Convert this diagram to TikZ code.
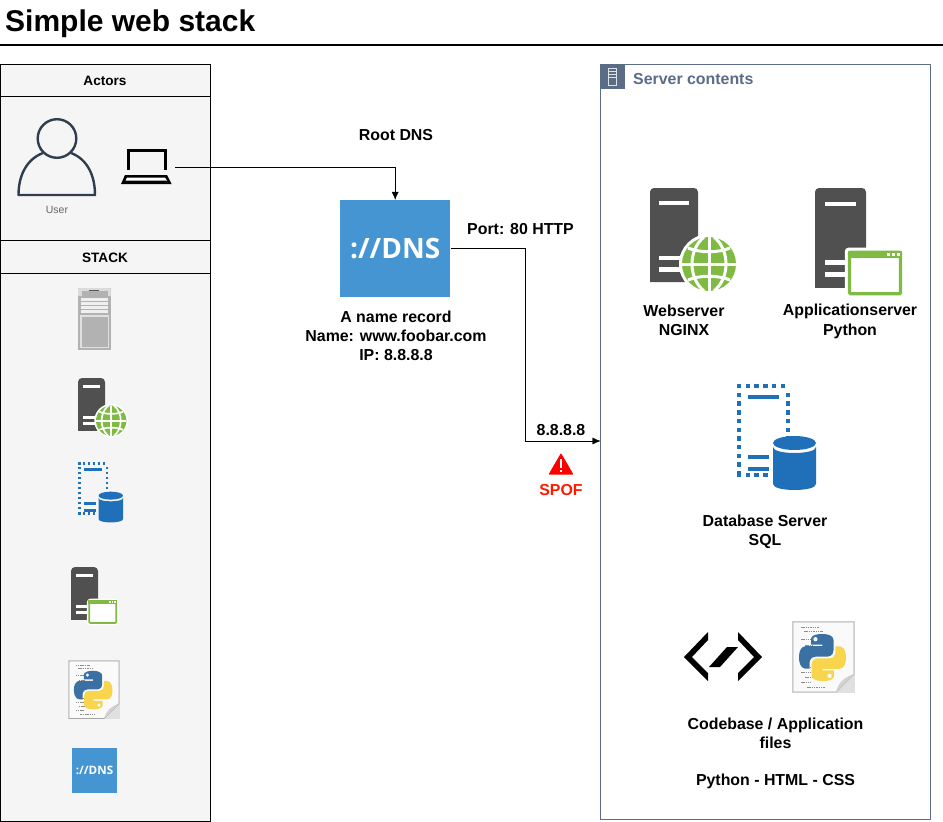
\documentclass[tikz,border=0pt]{standalone}
\usepackage{fontspec}
\usetikzlibrary{arrows.meta}
\setmainfont{Liberation Sans}
\newfontfamily\dnsfont{Open Sans}
\definecolor{panelgray}{HTML}{F5F5F5}
\definecolor{slateblue}{HTML}{5A6C86}
\definecolor{servergray}{HTML}{505050}
\definecolor{webgreen}{HTML}{7FBA42}
\definecolor{dbblue}{HTML}{1F6FB9}
\definecolor{dnsblue}{HTML}{4495D1}
\definecolor{userdark}{HTML}{2F3E4E}
\definecolor{pyblue}{HTML}{3A71A2}
\definecolor{pyyellow}{HTML}{F9D44D}
\newcommand{\bodyfont}{\fontsize{15.9}{19}\selectfont\bfseries}
\newcommand{\headfont}{\fontsize{13.6}{16}\selectfont\bfseries}
\newcommand{\snake}{(49,0) .. controls (24,0) and (25.6,11) .. (25.6,11) -- (25.6,22.4) -- (49.6,22.4) -- (49.6,25.8) -- (16,25.8) .. controls (16,25.8) and (0,24) .. (0,49.3) .. controls (0,74.6) and (14,73.7) .. (14,73.7) -- (22.4,73.7) -- (22.4,62) .. controls (22.4,62) and (22,48) .. (36.2,48) -- (60,48) .. controls (60,48) and (73.4,48.2) .. (73.4,35) -- (73.4,13.2) .. controls (73.4,13.2) and (75.4,0) .. (49,0) -- cycle}
\newcommand{\towerbody}{
  \fill[servergray,rounded corners=4] (0,94) -- (0,0) -- (48,0) -- (48,94) [sharp corners] -- cycle;
  \fill[white] (9,13) rectangle (39,17);
  \fill[white] (9,68) rectangle (37,72);
  \fill[white] (9,79) rectangle (37,84);
}
\tikzset{
  label/.style={align=center,inner sep=0pt,font=\bodyfont},
  head/.style={inner sep=0pt,font=\headfont},
  arrowline/.style={-{Latex[length=8pt,width=7pt]}},
  iconwidth/.initial=1,
  webserver/.pic={
    \towerbody
    \fill[white] (59,76) circle (30);
    \fill[webgreen] (59,76) circle (27);
    \begin{scope}[white,line width=3pt*\pgfkeysvalueof{/tikz/iconwidth}]
      \draw (59,49) -- (59,103);
      \draw (32,76) -- (86,76);
      \draw (38,60) .. controls (50,65) and (68,65) .. (80,60);
      \draw (38,92) .. controls (50,87) and (68,87) .. (80,92);
      \draw (54,49) .. controls (38,62) and (38,90) .. (54,103);
      \draw (64,49) .. controls (80,62) and (80,90) .. (64,103);
    \end{scope}
  },
  appserver/.pic={
    \towerbody
    \fill[white,rounded corners=4] (28,56) rectangle (85,104);
    \draw[webgreen,line width=3pt*\pgfkeysvalueof{/tikz/iconwidth},rounded corners=1] (32.5,60.5) rectangle (80.5,99.5);
    \fill[webgreen] (31,59) rectangle (82,66);
    \foreach \k in {68,72.5,77} \fill[white] (\k,61) rectangle +(2.6,2.6);
  },
  dbserver/.pic={
    \foreach \k in {0,...,5} \fill[dbblue] (\k*8.7,0) rectangle +(4.4,4.4);
    \foreach \k in {0,...,3} \fill[dbblue] (\k*8.7,88.5) rectangle +(4.4,4.4);
    \foreach \k in {1,...,10} \fill[dbblue] (0,\k*8.7) rectangle +(4.4,4.4);
    \foreach \k in {1,...,6} \fill[dbblue] (49,\k*8.7) rectangle +(4.4,4.4);
    \fill[dbblue] (11,11) rectangle (42,15.4);
    \fill[dbblue] (11,71) rectangle (32,75.4);
    \fill[dbblue] (11,83) rectangle (32,87.4);
    \fill[dbblue] (36,63) -- (36,100) .. controls (36,108) and (79,108) .. (79,100) -- (79,63) .. controls (79,71) and (36,71) .. (36,63) -- cycle;
    \fill[dbblue] (57.5,59) ellipse (21.5 and 7);
  },
  pyfile/.pic={
    \fill[black!12] (-1,-1) rectangle (62,71);
    \fill[black!2] (0,0) -- (61,0) -- (61,52) -- (43,70) -- (0,70) -- cycle;
    \draw[black!35,line width=.7pt] (0,0) -- (61,0) -- (61,52) -- (43,70) -- (0,70) -- cycle;
    \fill[black!18] (43,70) .. controls (46,60) and (50,56) .. (61,52) -- cycle;
    \foreach \k/\a/\b in {5/8/26,9/11/30,17/8/30,23/12/20,45/12/24,50/8/18,55/12/22,60/8/18,65/14/32}
      \draw[black!45,line width=.5pt,dash pattern=on 1.5pt off .8pt] (\a,\k) -- (\b,\k);
    \begin{scope}[shift={(6,12)},scale=.47]
      \fill[pyblue] \snake;
      \fill[white] (35,11) circle (4.5);
      \begin{scope}[shift={(100,100)},xscale=-1,yscale=-1]
        \fill[pyyellow] \snake;
        \fill[white] (35,11) circle (4.5);
      \end{scope}
    \end{scope}
  },
}
\begin{document}
\begin{tikzpicture}[x=1pt,y=-1pt]
  \useasboundingbox (0,0) rectangle (943,822);

  \node[anchor=base west,inner sep=0pt,font=\fontsize{30}{36}\selectfont\bfseries] (title) at (5,31) {Simple web stack};
  \coordinate (ruleL) at (0,45);
  \coordinate (ruleR) at (943,45);
  \draw[line width=2pt] (ruleL) -- (ruleR);

  \draw[fill=panelgray] (.5,64) rectangle (210.5,821);
  \draw (.5,96) -- (210.5,96);
  \draw (.5,240) -- (210.5,240);
  \draw (.5,273) -- (210.5,273);
  \node[head] (actors) at (105,80.5) {Actors};
  \node[head] (stack) at (105,257.5) {STACK};

  \draw[userdark,line width=2.4pt] (57,138.5) circle (19.3);
  \draw[userdark,line width=2.4pt,line join=round] (43,153) .. controls (27,159) and (18.5,175) .. (18.5,195) -- (95,195) .. controls (95,175) and (87,159) .. (71,153);
  \node[inner sep=0pt,text=black!60,font=\fontsize{10.5}{12}\selectfont] (user) at (57,209.5) {User};

  \draw[line width=3pt] (128,170) -- (128,150.5) -- (165.5,150.5) -- (165.5,170);
  \fill (125,175) -- (167,175) -- (171.5,184) -- (121,184) -- cycle;
  \fill[white] (127,177.5) -- (165,177.5) -- (167,180.5) -- (125.5,180.5) -- cycle;
  \coordinate (laptop) at (175,167);

  \fill[black!30] (78,288) rectangle (111,350);
  \fill[black!14,rounded corners=1] (78,288) rectangle (111,296);
  \fill[black!30] (82,291) rectangle (108,297);
  \draw[black!65] (89,290.5) -- (99,290.5);
  \fill[black!6] (81,298) rectangle (108,313);
  \foreach \k in {301,305,309} \draw[black!30] (81,\k) -- (108,\k);
  \fill[black!12] (80,315) rectangle (109,348);
  \fill[black!30] (81.5,316.5) rectangle (107.5,346.5);

  \pic[scale=.5625,iconwidth=.5625] at (78,378) {webserver};
  \pic[scale=.57] at (78,462) {dbserver};
  \pic[scale=.5625,iconwidth=.5625] at (71,567) {appserver};
  \pic[scale=.82] at (69,661) {pyfile};
  \node[fill=dnsblue,minimum width=45pt,minimum height=45pt,inner sep=0pt,text=white,font=\dnsfont\fontsize{11.6}{14}\selectfont\bfseries] (dnssmall) at (94.5,770.5) {://DNS};

  \node[inner sep=0pt,font=\bodyfont] (root) at (396,135.5) {Root DNS};
  \node[fill=dnsblue,minimum width=110.5pt,minimum height=97pt,inner sep=0pt,text=white,font=\dnsfont\fontsize{28}{36}\selectfont\bfseries] (dns) at (395.2,248.5) {://DNS};
  \node[label] (record) at (396,335.5) {A name record\\Name: www.foobar.com\\IP: 8.8.8.8};
  \node[inner sep=0pt,font=\bodyfont] (port) at (520.5,229.5) {Port: 80 HTTP};
  \node[inner sep=0pt,font=\bodyfont] (ip) at (561,430) {8.8.8.8};
  \node[inner sep=0pt,text=red!80!orange,font=\bodyfont] (spof) at (561,490.5) {SPOF};

  \fill[red,rounded corners=.8] (561,453) -- (573.5,474.5) -- (548.5,474.5) -- cycle;
  \fill[white] (560,459) rectangle (562,468);
  \fill[white] (560,470) rectangle (562,472);

  \draw[slateblue] (600.5,64.5) rectangle (930.5,819);
  \fill[slateblue] (600,64) rectangle (625,89);
  \draw[white,opacity=.8] (608.5,68) rectangle (616.5,85);
  \foreach \k in {71,74,77} \draw[white,opacity=.8] (609,\k) -- (616,\k);
  \node[anchor=west,inner sep=0pt,text=slateblue,font=\bodyfont] (contents) at (633,79.5) {Server contents};

  \coordinate (bend) at (525.5,441);
  \coordinate (entry) at (600.5,441);
  \draw[arrowline] (laptop) -| (dns.north);
  \draw[arrowline] (dns.east) -| (bend) -- (entry);

  \pic at (650,188) {webserver};
  \pic[scale=1.0625,iconwidth=1.06] at (815,188) {appserver};
  \node[label] (web) at (684,320) {Webserver\\NGINX};
  \node[label,font=\fontsize{15.9}{20}\selectfont\bfseries] (app) at (850,321) {Applicationserver\\Python};

  \pic at (737,384) {dbserver};
  \node[label] (db) at (765,531.5) {Database Server\\SQL};

  \fill (708,632) -- (708,640) -- (692,657) -- (708,673) -- (708,681) -- (684,657) -- cycle;
  \fill (738,632) -- (738,640) -- (754,657) -- (738,673) -- (738,681) -- (762,657) -- cycle;
  \fill (709,667) -- (720,667) -- (738,647) -- (727,647) -- cycle;
  \pic at (793,622) {pyfile};

  \node[label] (code) at (775.5,733.5) {Codebase / Application\\files};
  \node[inner sep=0pt,font=\bodyfont] (langs) at (775.5,781.5) {Python - HTML - CSS};
\end{tikzpicture}
\end{document}
